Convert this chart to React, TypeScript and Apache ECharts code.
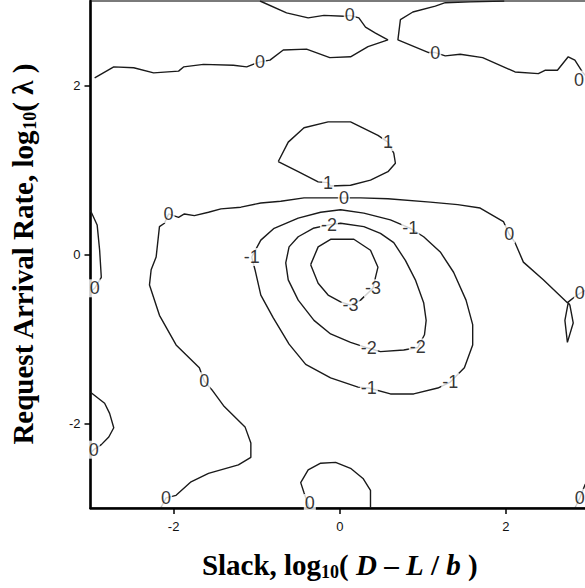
import React, { useEffect, useRef } from "react";
import * as echarts from "echarts";

type Pt = [number, number];

const xTicks = [-2, 0, 2];
const yTicks = [-2, 0, 2];

// contour level 0, upper band (left edge to the saddle and back to the top)
const zeroUpperBand: Pt[] = [
  [-2.95, 2.09], [-2.72, 2.22], [-2.48, 2.21], [-2.24, 2.15], [-1.94, 2.17], [-1.88, 2.22],
  [-1.64, 2.25], [-1.28, 2.24], [-1.12, 2.22], [-0.96, 2.28], [-0.84, 2.3], [-0.68, 2.42],
  [-0.4, 2.43], [-0.12, 2.33], [0.13, 2.34], [0.34, 2.46], [0.58, 2.54], [0.43, 2.62],
  [0.31, 2.69], [0.23, 2.8], [0.12, 2.83], [0.05, 2.82], [-0.19, 2.83], [-0.38, 2.8],
  [-0.64, 2.86], [-0.96, 3.0],
];
// contour level 0, top right
const zeroTopRight: Pt[] = [
  [1.98, 3.0], [1.57, 2.99], [1.27, 2.98], [1.15, 2.94], [0.88, 2.87], [0.73, 2.78], [0.7, 2.54],
  [1.07, 2.39], [1.15, 2.39], [1.27, 2.35], [1.45, 2.37], [1.72, 2.33], [2.11, 2.16], [2.39, 2.14],
  [2.47, 2.18], [2.62, 2.18], [2.75, 2.34], [2.83, 2.3], [2.92, 2.16], [3.0, 2.07],
];
// contour level 1, closed
const oneLoop: Pt[] = [
  [-0.74, 1.1], [-0.62, 1.33], [-0.43, 1.5], [-0.14, 1.57], [0.13, 1.57], [0.46, 1.41],
  [0.58, 1.33], [0.65, 1.2], [0.67, 1.08], [0.58, 0.98], [0.37, 0.88], [0.13, 0.82],
  [-0.11, 0.81], [-0.14, 0.85], [-0.26, 0.86], [-0.5, 0.98], [-0.74, 1.1],
];
// contour level 0, large middle curve
const zeroMiddle: Pt[] = [
  [-2.15, -2.99], [-2.09, -2.88], [-1.97, -2.85], [-1.79, -2.69], [-1.58, -2.59], [-1.22, -2.49],
  [-1.07, -2.4], [-1.07, -2.23], [-1.14, -2.04], [-1.39, -1.8], [-1.54, -1.6], [-1.63, -1.5],
  [-1.69, -1.34], [-1.97, -1.07], [-2.17, -0.72], [-2.29, -0.36], [-2.27, -0.18], [-2.21, -0.03],
  [-2.17, 0.33], [-2.11, 0.37], [-2.06, 0.48], [-1.94, 0.44], [-1.87, 0.48], [-1.75, 0.46],
  [-1.58, 0.5], [-1.43, 0.54], [-1.19, 0.56], [-0.95, 0.61], [-0.71, 0.63], [-0.43, 0.67],
  [-0.11, 0.67], [0.05, 0.67], [0.25, 0.67], [0.58, 0.66], [1.09, 0.62], [1.42, 0.59],
  [1.69, 0.55], [1.97, 0.39], [2.04, 0.24], [2.11, 0.14], [2.21, -0.09], [2.45, -0.3],
  [2.74, -0.57], [2.83, -0.5], [2.89, -0.46], [3.0, -0.4],
];
// contour level 0, small lens on the right
const zeroLens: Pt[] = [
  [2.75, -0.57], [2.71, -0.78], [2.74, -1.04], [2.81, -0.81], [2.77, -0.6], [2.75, -0.57],
];
// contour level -1, closed
const minusOneLoop: Pt[] = [
  [-1.06, -0.03], [-0.95, 0.17], [-0.79, 0.31], [-0.5, 0.43], [-0.23, 0.5], [0.01, 0.53],
  [0.29, 0.49], [0.61, 0.41], [0.85, 0.31], [1.01, 0.21], [1.21, 0.03], [1.37, -0.21],
  [1.52, -0.54], [1.6, -0.83], [1.6, -1.07], [1.5, -1.34], [1.33, -1.51], [1.18, -1.58],
  [0.89, -1.65], [0.61, -1.65], [0.35, -1.58], [0.22, -1.57], [-0.11, -1.46], [-0.41, -1.3],
  [-0.61, -1.06], [-0.8, -0.75], [-0.95, -0.48], [-1.02, -0.18], [-1.06, -0.03],
];
// contour level -2, closed
const minusTwoLoop: Pt[] = [
  [-0.13, 0.35], [0.01, 0.37], [0.29, 0.33], [0.49, 0.25], [0.65, 0.14], [0.79, -0.07],
  [0.91, -0.3], [1.01, -0.57], [1.04, -0.78], [1.02, -0.95], [0.94, -1.1], [0.77, -1.13],
  [0.49, -1.15], [0.35, -1.11], [0.13, -1.04], [-0.11, -0.94], [-0.31, -0.78], [-0.5, -0.54],
  [-0.62, -0.3], [-0.65, -0.1], [-0.61, 0.09], [-0.5, 0.21], [-0.32, 0.31], [-0.13, 0.35],
];
// contour level -3, closed
const minusThreeLoop: Pt[] = [
  [-0.35, -0.12], [-0.26, 0.09], [-0.11, 0.18], [0.17, 0.18], [0.37, 0.05], [0.46, -0.15],
  [0.43, -0.27], [0.4, -0.4], [0.25, -0.54], [0.13, -0.6], [0.01, -0.56], [-0.14, -0.48],
  [-0.26, -0.34], [-0.35, -0.12],
];
// contour level 0, left edge pieces
const zeroLeftUpper: Pt[] = [
  [-3.0, 0.52], [-2.92, 0.35], [-2.89, 0.05], [-2.87, -0.27], [-2.95, -0.4], [-3.0, -0.44],
];
const zeroLeftLower: Pt[] = [
  [-3.0, -1.63], [-2.83, -1.76], [-2.77, -1.88], [-2.72, -2.05], [-2.78, -2.16], [-2.87, -2.25],
  [-2.96, -2.31], [-3.0, -2.35],
];
// contour level 0, bottom pieces
const zeroBottomCenter: Pt[] = [
  [-0.37, -2.99], [-0.43, -2.82], [-0.47, -2.7], [-0.38, -2.55], [-0.23, -2.47], [-0.05, -2.46],
  [0.13, -2.53], [0.28, -2.65], [0.37, -2.79], [0.37, -3.0],
];
const zeroBottomRight: Pt[] = [[2.83, -3.0], [2.89, -2.88], [2.95, -2.73], [3.0, -2.65]];

const contourLines: Pt[][] = [
  zeroUpperBand, zeroTopRight, oneLoop, zeroMiddle, zeroLens, minusOneLoop,
  minusTwoLoop, minusThreeLoop, zeroLeftUpper, zeroLeftLower, zeroBottomCenter, zeroBottomRight,
];

// contour labels: x, y, level text
const contourLabels: [number, number, string][] = [
  [-0.96, 2.28, "0"], [0.12, 2.83, "0"], [1.15, 2.39, "0"], [2.88, 2.07, "0"],
  [0.58, 1.33, "1"], [-0.14, 0.85, "1"],
  [-2.09, -2.88, "0"], [-1.63, -1.5, "0"], [-2.06, 0.48, "0"], [0.05, 0.67, "0"],
  [2.04, 0.24, "0"], [2.89, -0.46, "0"],
  [-1.06, -0.03, "-1"], [0.85, 0.31, "-1"], [1.33, -1.51, "-1"], [0.35, -1.58, "-1"],
  [-0.13, 0.35, "-2"], [0.94, -1.1, "-2"], [0.35, -1.11, "-2"],
  [0.4, -0.4, "-3"], [0.13, -0.6, "-3"],
  [-2.95, -0.4, "0"], [-2.96, -2.31, "0"], [-0.36, -2.94, "0"], [2.89, -2.88, "0"],
];

const serif = "'Liberation Serif', 'Times New Roman', serif";
const sans = "'Liberation Sans', Arial, sans-serif";

const titleRich = {
  b: { fontFamily: serif, fontWeight: "bold", fontSize: 29, lineHeight: 32, color: "#000" },
  i: { fontFamily: serif, fontWeight: "bold", fontStyle: "italic", fontSize: 29, lineHeight: 32, color: "#000" },
  s: { fontFamily: serif, fontWeight: "bold", fontSize: 18, lineHeight: 18, verticalAlign: "bottom", color: "#000" },
};

export default function App() {
  const ref = useRef<HTMLDivElement>(null);
  useEffect(() => {
    if (!ref.current) return;
    const chart = echarts.init(ref.current, undefined, { renderer: "svg" });
    const lineSeries = contourLines.map((pts) => ({
      type: "line",
      data: pts,
      showSymbol: false,
      symbol: "none",
      silent: true,
      z: 3,
      lineStyle: { color: "#1a1a1a", width: 1.4 },
    }));
    chart.setOption({
      animation: false,
      backgroundColor: "#fff",
      grid: {
        left: 89, top: 1, width: 500, height: 507,
        show: true, borderColor: "#7a7a7a", borderWidth: 2, backgroundColor: "transparent",
      },
      xAxis: {
        type: "value", min: -3, max: 3,
        splitLine: { show: false },
        axisLine: { onZero: false, lineStyle: { color: "#000", width: 2.5 } },
        axisTick: { customValues: xTicks, length: 6, lineStyle: { color: "#000", width: 1.5 } },
        axisLabel: { customValues: xTicks, fontSize: 13, color: "#111", margin: 12, fontFamily: sans },
        name: "{b|Slack, log}{s|10}{b|( }{i|D}{b| – }{i|L}{b| / }{i|b}{b| )}",
        nameLocation: "middle",
        nameGap: 41,
        nameTextStyle: { rich: titleRich },
      },
      yAxis: {
        type: "value", min: -3, max: 3,
        splitLine: { show: false },
        axisLine: { onZero: false, lineStyle: { color: "#000", width: 2.5 } },
        axisTick: { customValues: yTicks, length: 6, lineStyle: { color: "#000", width: 1.5 } },
        axisLabel: { customValues: yTicks, fontSize: 13, color: "#111", margin: 10, fontFamily: sans },
        name: "{b|Request Arrival Rate, log}{s|10}{b|( λ )}",
        nameLocation: "middle",
        nameGap: 52,
        nameTextStyle: { rich: titleRich },
      },
      series: [
        ...lineSeries,
        {
          type: "scatter",
          data: contourLabels.map(([x, y, t]) => ({ value: [x, y], name: t })),
          symbolSize: 1,
          itemStyle: { color: "rgba(0,0,0,0)" },
          silent: true,
          z: 6,
          label: {
            show: true,
            position: "inside",
            formatter: (p: any) => p.name,
            fontSize: 18,
            fontFamily: sans,
            color: "#000",
            textBorderWidth: 0,
            textBorderColor: "transparent",
            backgroundColor: "#fff",
            padding: [0, 1],
          },
        },
      ],
    });
    return () => chart.dispose();
  }, []);
  return (
    <div style={{ position: "fixed", left: 0, top: 0, width: 585, height: 588, overflow: "hidden", background: "#fff" }}>
      <div ref={ref} style={{ width: 600, height: 588 }} />
    </div>
  );
}
